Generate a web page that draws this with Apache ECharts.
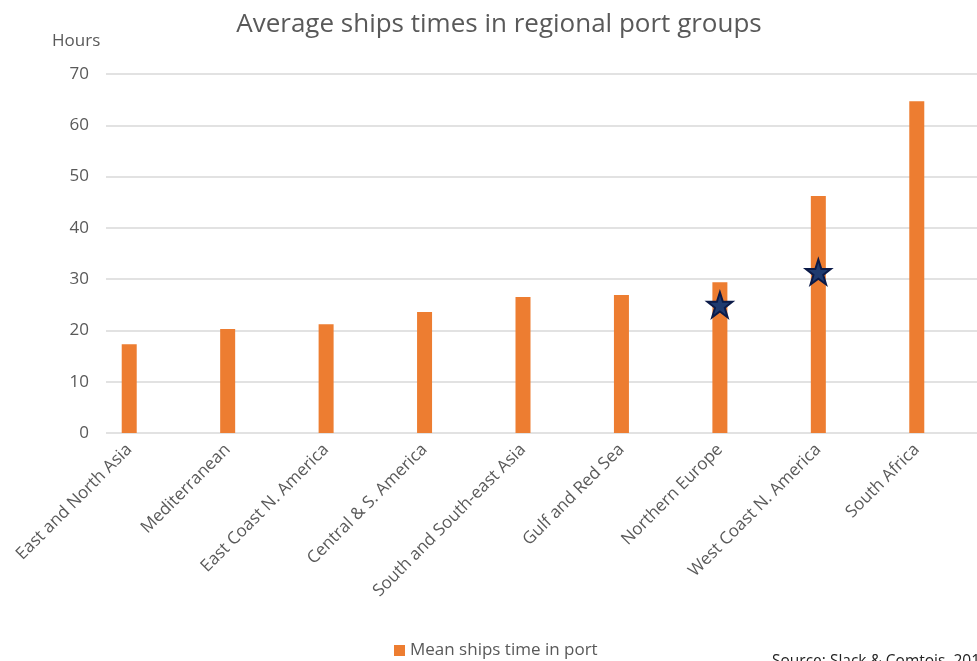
<!DOCTYPE html>
<html>
<head>
<meta charset="utf-8">
<script src="https://cdn.jsdelivr.net/npm/echarts@6/dist/echarts.min.js"></script>
<style>html,body{margin:0;padding:0;background:#fff;}#c{width:977px;height:661px;}</style>
</head>
<body>
<div id="c"></div>
<script>
const categories = ["East and North Asia","Mediterranean","East Coast N. America","Central & S. America","South and South-east Asia","Gulf and Red Sea","Northern Europe","West Coast N. America","South Africa"];
const meanTimeInPort = [17.3, 20.3, 21.2, 23.6, 26.5, 26.9, 29.4, 46.2, 64.7];
const starCategories = ["Northern Europe","West Coast N. America"];
const starValues = [25.0, 31.4];
const yTicks = [0,10,20,30,40,50,60,70];

const FONT = "'Open Sans', 'Noto Sans', sans-serif";
const GREY = '#595959';
const starPath = 'path://M50,0 L61.8,35.1 L98.9,35.4 L69.1,57.5 L80.3,92.7 L50,71.2 L19.7,92.7 L30.9,57.5 L1.1,35.4 L38.2,35.1 Z';

const chart = echarts.init(document.getElementById('c'), null, {renderer:'canvas'});
chart.setOption({
  animation:false,
  backgroundColor:'#fff',
  title:{text:'Average ships times in regional port groups', left:494, textAlign:'center', top:7,
    textStyle:{fontFamily:FONT, fontSize:26, fontWeight:'normal', color:GREY}},
  legend:{data:['Mean ships time in port'], left:389, top:637, itemWidth:11, itemHeight:11, itemGap:5, icon:'rect',
    textStyle:{fontFamily:FONT, fontSize:17, color:GREY}},
  graphic:[
    {type:'text', left:52, top:33, style:{text:'Hours', font:'17px '+FONT, fill:GREY}},
    {type:'text', left:772, top:654, style:{text:'Source: Slack & Comtois, 2016', font:'15.5px '+FONT, fill:'#222'}}
  ],
  grid:[
    {left:106, right:0, top:74, bottom:228},
    {left:80, right:11, top:74, bottom:228}
  ],
  xAxis:[
    {type:'value', gridIndex:0, show:false, min:0, max:1},
    {type:'category', gridIndex:1, data:categories, boundaryGap:true,
      axisLine:{show:false}, axisTick:{show:false},
      axisLabel:{rotate:45, margin:14, fontFamily:FONT, fontSize:17, color:GREY, interval:0}}
  ],
  yAxis:[
    {type:'value', gridIndex:0, min:0, max:70, interval:10,
      axisLine:{show:false}, axisTick:{show:false},
      axisLabel:{margin:17, fontFamily:FONT, fontSize:17, color:GREY},
      splitLine:{lineStyle:{color:'#d9d9d9', width:1.5}}},
    {type:'value', gridIndex:1, min:0, max:70, interval:10, show:false, splitLine:{show:false}}
  ],
  series:[
    {name:'Mean ships time in port', type:'bar', xAxisIndex:1, yAxisIndex:1, data:meanTimeInPort,
      barWidth:15, itemStyle:{color:'#ED7D31'}},
    {name:'stars', type:'scatter', xAxisIndex:1, yAxisIndex:1,
      data: starCategories.map((c,i)=>[c, starValues[i]]),
      symbol:starPath, symbolSize:25,
      itemStyle:{color:'#1f3a6e', borderColor:'#0b1a48', borderWidth:2, opacity:1}}
  ]
});
</script>
</body>
</html>
